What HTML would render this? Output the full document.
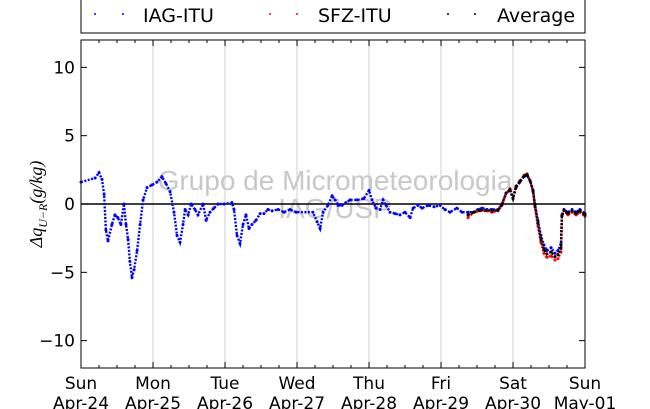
<!DOCTYPE html>
<html><head><meta charset="utf-8"><style>
body{margin:0;background:#fff;}
svg{display:block;font-family:"DejaVu Sans","Liberation Sans",sans-serif;}
</style></head><body>
<svg id="chart" width="650" height="409" viewBox="0 0 650 409">
<g id="grid"></g>
<text x="335" y="190" font-size="28" fill="#c8c8c8" text-anchor="middle" font-family="Liberation Sans,sans-serif">Grupo de Micrometeorologia</text>
<text x="335" y="218" font-size="28" fill="#c8c8c8" text-anchor="middle" font-family="Liberation Sans,sans-serif">IAG/USP</text>
<line x1="81" x2="585" y1="204" y2="204" stroke="#000" stroke-width="1.5"/>
<g id="series"></g>
<rect x="81" y="40" width="504" height="328" fill="none" stroke="#000" stroke-width="1"/>
<g id="axes"></g>
<text transform="translate(42,204) rotate(-90)" font-size="18" text-anchor="middle" font-family="Liberation Serif,serif" font-style="italic">Δq<tspan font-size="12" dy="5">U−R</tspan><tspan dy="-5">(g/kg)</tspan></text>
<g>
<rect x="81" y="-5" width="504" height="38" fill="#fff" stroke="#000"/>
<g><circle cx="95" cy="14" r="1" fill="#00f"/><circle cx="123" cy="14" r="1" fill="#00f"/><text x="143" y="22" font-size="19">IAG-ITU</text></g>
<g><circle cx="270" cy="14" r="1" fill="#f00"/><circle cx="297" cy="14" r="1" fill="#f00"/><text x="318" y="22" font-size="19">SFZ-ITU</text></g>
<g><circle cx="448" cy="14" r="1" fill="#000"/><circle cx="475" cy="14" r="1" fill="#000"/><text x="497" y="22" font-size="19">Average</text></g>
</g>
</svg>
<script>
const dayLabels=["Sun","Mon","Tue","Wed","Thu","Fri","Sat","Sun"];
const dateLabels=["Apr-24","Apr-25","Apr-26","Apr-27","Apr-28","Apr-29","Apr-30","May-01"];
const yTicks=[10,5,0,-5,-10];
const iagHours=[0,4.7,6,7,7.7,8.3,9,10.3,11.3,12.3,13.3,14.3,15,15.7,16.3,17,17.7,18.7,19.7,20.7,22,23.7,25.3,27,28.3,29.7,31,32,33,34,34.7,35.7,36.7,38,39,40.7,41.7,43,44.3,45.7,47.7,50.3,51,52,53,54,55,56,57,58.3,59.7,61,62.3,63.7,65.7,67.7,69.7,71.7,77.3,78.7,79.7,80.7,82.3,83.7,84.7,85.7,87,88.3,89.7,92,94.3,96,97,98.3,99.7,100.7,101.7,103,104.7,106.3,108,109.7,110.7,112.3,113.7,115.7,117.7,119.7,121.3,123,125.3,127,129,130.7,132.3,133.7,135.3,137,139,140.3,141.7,143,144,145,146.3,147.7,148.7,149.7,150.7,151.3,152.3,153.3,154.3,155.3,156.7,158,159,160,160.3,161,162.3,163.7,165,166.3,168];
const iagValues=[1.6,1.9,2.3,1.8,0.7,-1.9,-2.7,-1.5,-0.8,-1.0,-1.5,0.0,-1.5,-2.6,-4.2,-5.4,-4.8,-3.4,-1.5,0.3,1.2,1.4,1.6,2.0,1.5,0.9,-0.6,-2.3,-2.8,-1.5,-0.4,-0.8,0.0,-0.4,-0.8,0.0,-1.2,-0.6,-0.3,0.0,0.0,0.1,-0.4,-2.3,-2.9,-1.5,-0.8,-1.8,-1.5,-1.2,-0.7,-0.7,-0.4,-0.5,-0.4,-0.6,-0.4,-0.6,-0.6,-1.3,-1.8,-0.6,-0.1,0.6,0.3,-0.1,-0.1,0.1,0.3,0.3,0.4,1.0,0.3,-0.3,-0.4,0.3,-0.1,-0.6,-0.7,-0.8,-0.6,-1.0,-0.3,-0.1,-0.3,-0.1,-0.2,-0.1,-0.4,-0.6,-0.3,-0.6,-0.6,-0.6,-0.4,-0.3,-0.4,-0.4,-0.4,0.0,0.8,1.0,0.4,1.2,1.6,2.0,2.1,1.7,1.0,0.0,-1.2,-2.3,-3.0,-3.4,-3.2,-3.6,-3.4,-2.9,-0.8,-0.4,-0.6,-0.4,-0.6,-0.4,-0.7];
const sfzHours=[129,131,133,135,137,139,140.3,141.7,143,144,145,146.3,147.7,148.7,149.7,150.7,151.3,152.3,153.3,154.3,155.3,156.7,158,159,160,160.3,161,162.3,163.7,165,166.3,168];
const sfzValues=[-1.0,-0.6,-0.5,-0.5,-0.6,-0.5,-0.1,0.8,1.1,0.4,1.3,1.7,2.1,2.2,1.7,0.9,-0.2,-1.6,-2.8,-3.6,-3.9,-3.8,-4.1,-4.0,-3.5,-0.9,-0.5,-0.8,-0.6,-0.8,-0.6,-0.9];
const avgValues=[-0.8,-0.6,-0.45,-0.45,-0.5,-0.45,-0.05,0.8,1.05,0.4,1.25,1.65,2.05,2.15,1.7,0.95,-0.1,-1.4,-2.55,-3.3,-3.65,-3.5,-3.85,-3.7,-3.2,-0.85,-0.45,-0.7,-0.5,-0.7,-0.5,-0.8];
const NS="http://www.w3.org/2000/svg";
const X0=81,X1=585,Y0=40,Y1=368;
function xs(h){return X0+(h/168)*(X1-X0);}
function ys(v){return Y1-((v+12)/24)*(Y1-Y0);}
function mk(tag,attrs,parent){const e=document.createElementNS(NS,tag);for(const k in attrs)e.setAttribute(k,attrs[k]);parent.appendChild(e);return e;}
const grid=document.getElementById('grid'),axes=document.getElementById('axes'),series=document.getElementById('series');
dayLabels.forEach((d,i)=>{
  const x=xs(i*24);
  if(i>0&&i<7){const g=mk('line',{x1:x,x2:x,y1:Y0,y2:Y1,stroke:'#cfcfcf','stroke-width':1},grid);
  
  }
  const t=mk('text',{x:x,y:389,'font-size':17,'text-anchor':'middle'},axes);t.textContent=d;
  
  
  const t2=mk('text',{x:x,y:409,'font-size':17,'text-anchor':'middle'},axes);t2.textContent=dateLabels[i];
  
  
});
for(let h=6;h<168;h+=6){const x=xs(h);const L=(h%24===0)?6:3;
  mk('line',{x1:x,x2:x,y1:Y1,y2:Y1-L,stroke:'#000'},axes);mk('line',{x1:x,x2:x,y1:Y0,y2:Y0+L,stroke:'#000'},axes);}
yTicks.forEach(v=>{const y=ys(v);
  mk('line',{x1:X0,x2:X0+6,y1:y,y2:y,stroke:'#000'},axes);mk('line',{x1:X1,x2:X1-6,y1:y,y2:y,stroke:'#000'},axes);
  const t=mk('text',{x:75,y:y+6,'font-size':17,'text-anchor':'end'},axes);t.textContent=v<0?'−'+Math.abs(v):String(v);
  
  
});
function drawSeries(hours,vals,color,name){
  const g=mk('g',{},series);
  
  
  const d=hours.map((h,i)=>(i?'L':'M')+xs(h).toFixed(1)+','+ys(vals[i]).toFixed(1)).join('');
  mk('path',{d:d,fill:'none',stroke:color,'stroke-width':2.4,'stroke-dasharray':'2 1.5'},g);
  hours.forEach((h,i)=>{const c=mk('circle',{cx:xs(h),cy:ys(vals[i]),r:1.5,fill:color},g);
    
    });
}
drawSeries(iagHours,iagValues,'#0000ff','iag-itu-series');
drawSeries(sfzHours,sfzValues,'#ff0000','sfz-itu-series');
drawSeries(sfzHours,avgValues,'#000000','average-series');
</script>
</body></html>
